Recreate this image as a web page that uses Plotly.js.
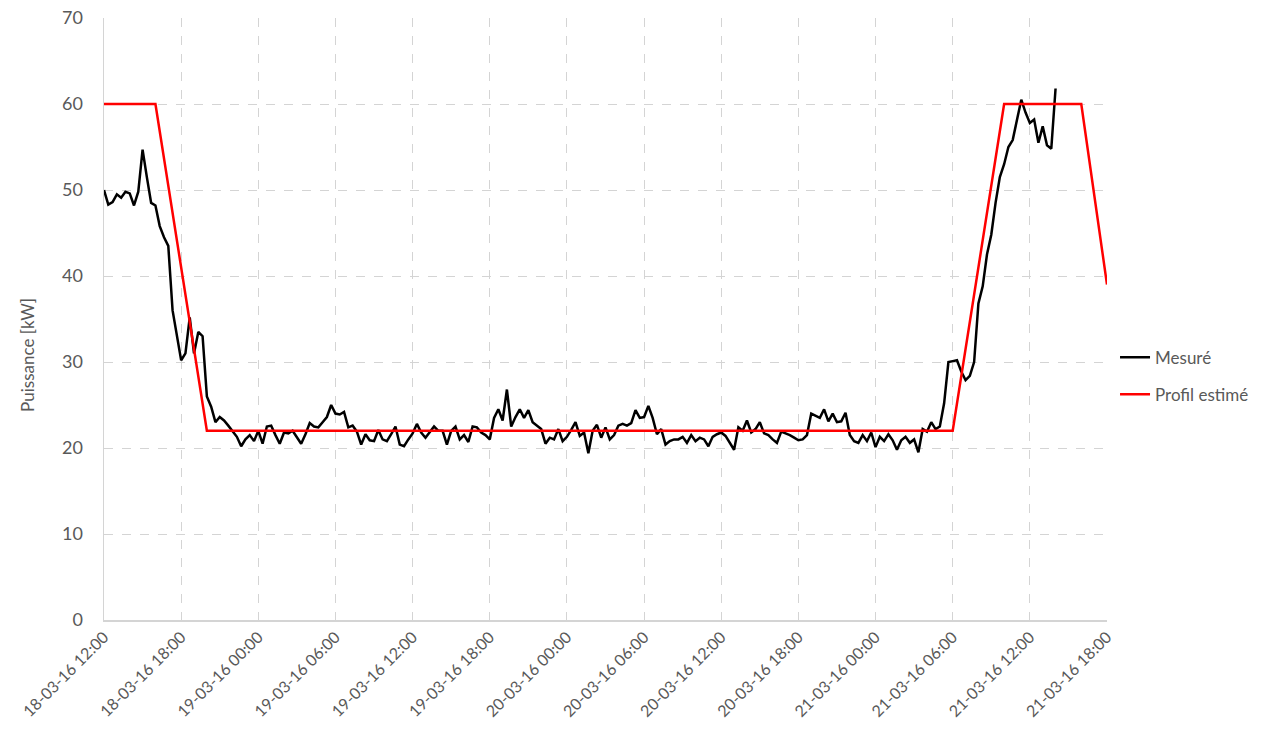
<!DOCTYPE html>
<html>
<head>
<meta charset="utf-8">
<script src="https://cdn.plot.ly/plotly-3.0.1.min.js"></script>
<style>html,body{margin:0;padding:0;background:#fff;}#chart{width:1283px;height:747px;}</style>
</head>
<body>
<div id="chart"></div>
<script>
// Measured power, one value every 20 minutes starting 18-03-16 12:00
const measuredStart = '2016-03-18T12:00:00';
const measuredStepMinutes = 20;
const measuredValues = [
50.0,48.3,48.6,49.5,49.1,49.8,49.6,48.2,49.8,54.7,
51.5,48.5,48.2,45.8,44.5,43.5,36.0,33.2,30.2,31.0,
35.2,31.0,33.5,33.0,26.0,24.8,23.0,23.6,23.2,22.6,
22.0,21.3,20.2,21.0,21.5,20.8,22.0,20.5,22.5,22.6,
21.5,20.5,21.8,21.7,22.0,21.3,20.5,21.6,22.9,22.5,
22.4,23.0,23.6,25.0,24.0,23.9,24.2,22.4,22.6,21.9,
20.4,21.6,20.9,20.8,22.1,21.0,20.8,21.6,22.5,20.4,
20.2,21.0,21.7,22.8,21.8,21.2,21.8,22.5,22.0,22.0,
20.4,22.0,22.5,21.0,21.5,20.7,22.5,22.4,21.8,21.5,
21.0,23.5,24.5,23.2,26.8,22.5,23.6,24.5,23.5,24.4,
23.0,22.6,22.2,20.5,21.2,21.0,22.2,20.8,21.3,22.1,
23.0,21.4,21.8,19.4,22.0,22.7,21.2,22.4,21.0,21.5,
22.6,22.8,22.6,22.9,24.4,23.5,23.6,24.9,23.5,21.6,
22.2,20.4,20.8,21.0,21.0,21.3,20.6,21.5,20.8,21.2,
21.0,20.2,21.3,21.6,21.8,21.4,20.6,19.8,22.4,22.0,
23.2,21.8,22.2,23.0,21.7,21.5,21.0,20.6,21.9,21.7,
21.5,21.2,20.9,21.0,21.5,24.0,23.7,23.5,24.5,23.1,
24.0,23.0,23.1,24.1,21.5,20.8,20.6,21.5,20.8,21.8,
20.1,21.3,20.8,21.6,20.9,19.8,20.9,21.3,20.6,21.0,
19.5,22.2,21.9,23.0,22.2,22.5,25.2,30.0,30.1,30.2,
28.9,27.9,28.4,30.0,36.8,38.8,42.5,44.8,48.5,51.5,
53.0,55.0,55.8,58.0,60.5,59.0,57.8,58.2,55.5,57.4,
55.2,54.8,61.8
];

// Estimated profile
const profileTimes = ['2016-03-18 12:00','2016-03-18 16:00','2016-03-18 20:00','2016-03-21 06:00','2016-03-21 10:00','2016-03-21 16:00','2016-03-21 18:00'];
const profileValues = [60, 60, 22, 22, 60, 60, 39];

const seriesNames = ['Mesuré', 'Profil estimé'];
const yTitle = 'Puissance [kW]';
const xRange = ['2016-03-18 12:00', '2016-03-21 18:00'];
const yRange = [0, 70];

function fmt(d) {
  const p = n => String(n).padStart(2, '0');
  return d.getUTCFullYear() + '-' + p(d.getUTCMonth() + 1) + '-' + p(d.getUTCDate()) + ' ' + p(d.getUTCHours()) + ':' + p(d.getUTCMinutes());
}
const t0 = Date.parse(measuredStart + 'Z');
const measuredTimes = measuredValues.map((v, i) => fmt(new Date(t0 + i * measuredStepMinutes * 60000)));

const fontFam = 'Lato, "Noto Sans", sans-serif';
const grey = '#595959';

const traces = [
  {x: measuredTimes, y: measuredValues, type: 'scatter', mode: 'lines', name: seriesNames[0],
   legendgroup: 'g1', line: {color: '#000000', width: 2.5}},
  {x: profileTimes, y: profileValues, type: 'scatter', mode: 'lines', name: seriesNames[1],
   legendgroup: 'g2', line: {color: '#ff0000', width: 2.5}}
];

const layout = {
  width: 1283, height: 747,
  margin: {l: 104, r: 176, t: 18, b: 127},
  paper_bgcolor: '#ffffff', plot_bgcolor: '#ffffff',
  font: {family: fontFam, color: grey},
  showlegend: true,
  legend: {x: 1.008, xanchor: 'left', y: 0.405, yanchor: 'middle', font: {size: 17, color: grey, family: fontFam},
           tracegroupgap: 12, itemwidth: 30},
  xaxis: {
    type: 'date', range: xRange, tick0: xRange[0], dtick: 6 * 3600 * 1000,
    tickformat: '%d-%m-%y %H:%M', tickangle: -45,
    tickfont: {size: 16, color: grey, family: fontFam},
    showgrid: true, gridcolor: '#d4d4d4', griddash: 'dash', gridwidth: 1,
    showline: true, linecolor: '#d4d4d4', linewidth: 1.5,
    ticks: '', zeroline: false, fixedrange: true
  },
  yaxis: {
    range: yRange, dtick: 10, tick0: 0,
    tickfont: {size: 18, color: grey, family: fontFam},
    showgrid: true, gridcolor: '#d4d4d4', griddash: 'dash', gridwidth: 1,
    showline: true, linecolor: '#d4d4d4', linewidth: 1.5,
    ticks: '', ticklabelstandoff: 16, zeroline: false, fixedrange: true
  },
  annotations: [{
    text: yTitle, textangle: -90, xref: 'paper', yref: 'paper',
    x: -0.077, y: 0.44, xanchor: 'center', yanchor: 'middle', showarrow: false,
    font: {size: 17, color: grey, family: fontFam}
  }]
};

Plotly.newPlot('chart', traces, layout, {displayModeBar: false, staticPlot: true});
</script>
</body>
</html>
